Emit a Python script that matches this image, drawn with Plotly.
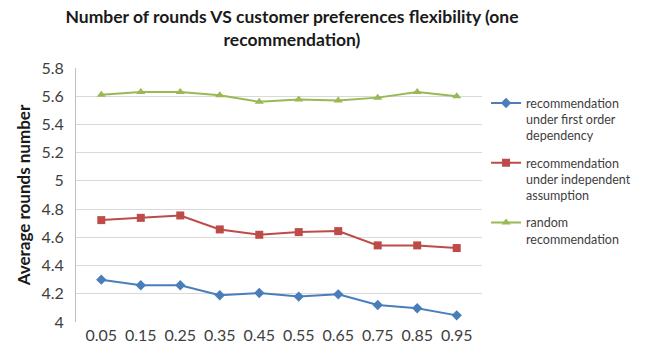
import plotly.graph_objects as go

categories = ["0.05", "0.15", "0.25", "0.35", "0.45", "0.55", "0.65", "0.75", "0.85", "0.95"]
first_order = [4.30, 4.26, 4.26, 4.19, 4.205, 4.18, 4.196, 4.12, 4.097, 4.047]
independent = [4.722, 4.738, 4.755, 4.656, 4.618, 4.637, 4.644, 4.543, 4.543, 4.524]
random_rec = [5.61, 5.63, 5.63, 5.607, 5.56, 5.576, 5.569, 5.59, 5.63, 5.60]
names = [
    "recommendation<br>under first order<br>dependency",
    "recommendation<br>under independent<br>assumption",
    "random<br>recommendation",
]
y_ticks = [4, 4.2, 4.4, 4.6, 4.8, 5, 5.2, 5.4, 5.6, 5.8]
y_tick_text = ["4", "4.2", "4.4", "4.6", "4.8", "5", "5.2", "5.4", "5.6", "5.8"]

FONT = "Lato"
fig = go.Figure()
fig.add_trace(go.Scatter(x=categories, y=first_order, name=names[0], mode="lines+markers",
                         legendgroup="g1",
                         line=dict(color="#4a7ebb", width=2),
                         marker=dict(symbol="diamond", size=8, color="#4a7ebb")))
fig.add_trace(go.Scatter(x=categories, y=independent, name=names[1], mode="lines+markers",
                         legendgroup="g2",
                         line=dict(color="#be4b48", width=2),
                         marker=dict(symbol="square", size=8, color="#be4b48")))
fig.add_trace(go.Scatter(x=categories, y=random_rec, name=names[2], mode="lines+markers",
                         legendgroup="g3",
                         line=dict(color="#98b954", width=2),
                         marker=dict(symbol="triangle-up", size=8, color="#98b954")))

fig.update_layout(
    width=648, height=350,
    margin=dict(l=76, r=152, t=68, b=28),
    paper_bgcolor="white", plot_bgcolor="white",
    font=dict(family=FONT, color="#404040"),
    title=dict(text="<b>Number of rounds VS customer preferences flexibility (one<br>recommendation)</b>",
               x=292/648, xanchor="center", y=1 - 23/350, yanchor="top",
               font=dict(family=FONT, size=17.5, color="#1a1a1a")),
    legend=dict(x=1.01, y=0.92, xanchor="left", yanchor="top",
                font=dict(family=FONT, size=12.5, color="#404040"),
                tracegroupgap=8, itemwidth=30, valign="top"),
    showlegend=True,
)
fig.update_xaxes(type="category", showgrid=False, showline=False, ticks="",
                 ticklabelstandoff=2, automargin=False,
                 tickfont=dict(family=FONT, size=16, color="#404040"))
fig.update_yaxes(range=[4, 5.8], tickvals=y_ticks, ticktext=y_tick_text,
                 showgrid=True, gridcolor="#d9d9d9", gridwidth=1,
                 showline=True, linecolor="#bfbfbf", ticks="", zeroline=False,
                 ticklabelstandoff=8, automargin=False,
                 tickfont=dict(family=FONT, size=16, color="#404040"),
                 title=dict(text="<b>Average rounds number</b>", standoff=6,
                            font=dict(family=FONT, size=17, color="#1a1a1a")))

fig.write_html("out.html")
